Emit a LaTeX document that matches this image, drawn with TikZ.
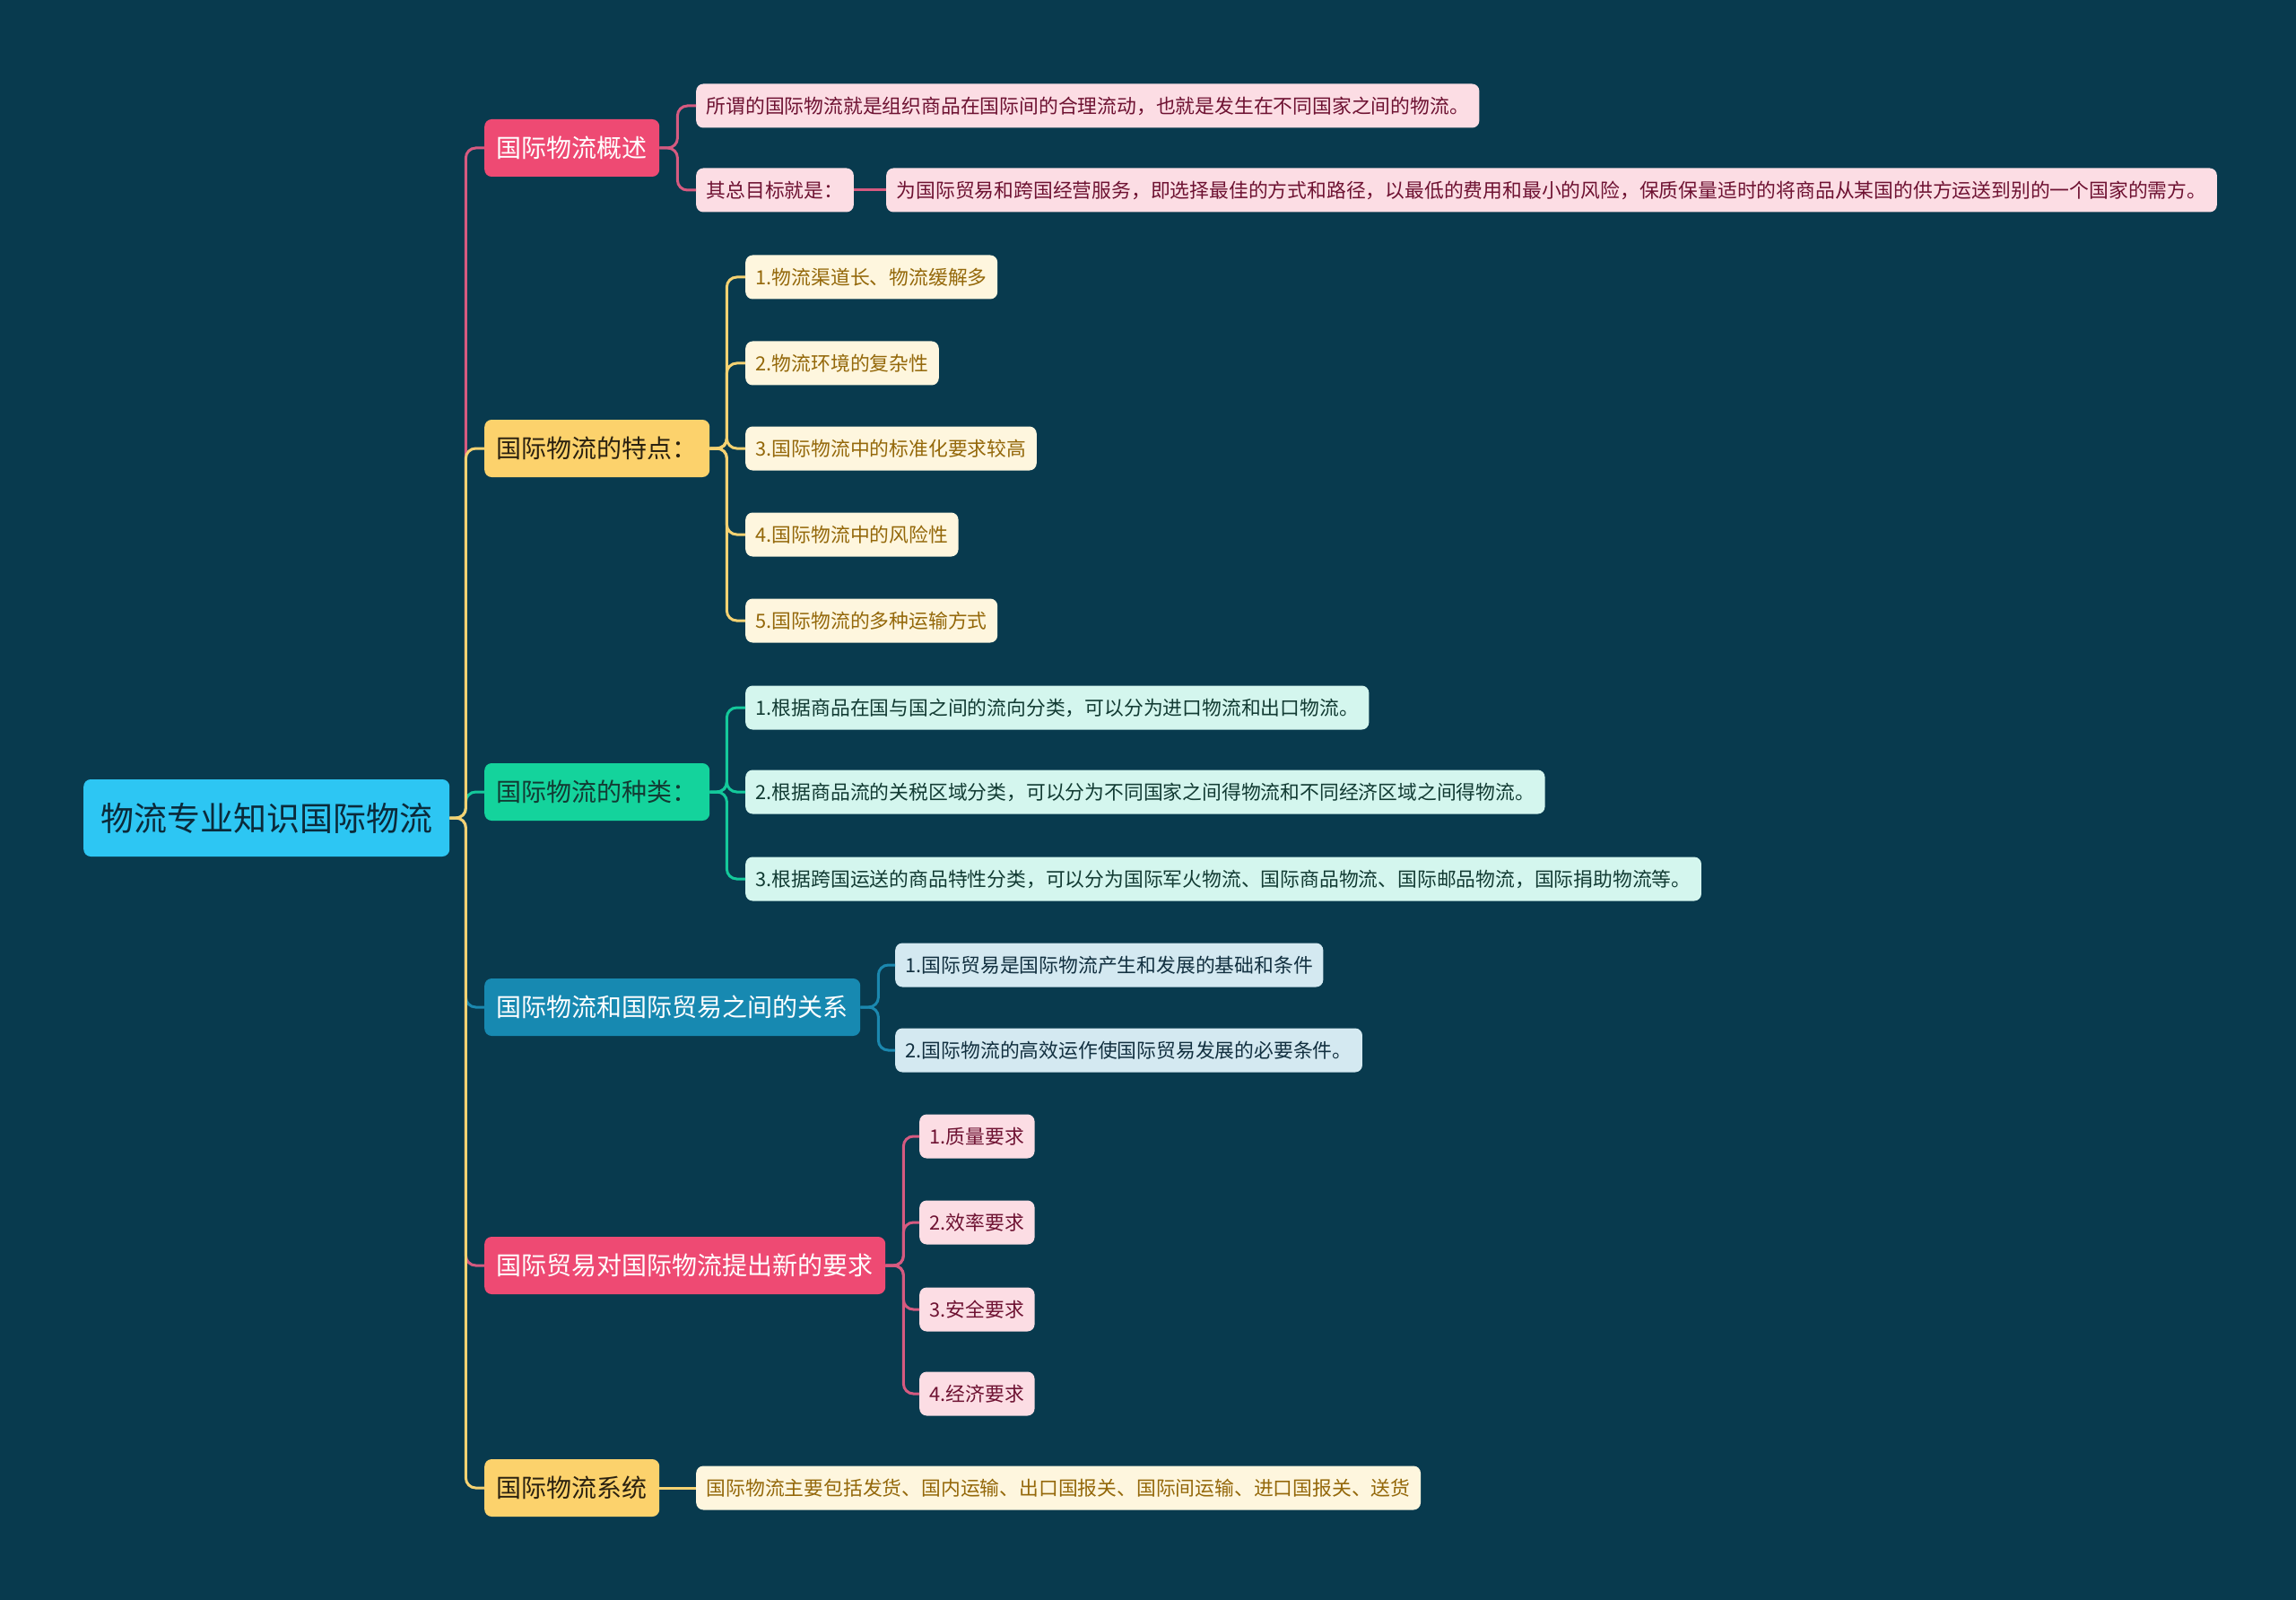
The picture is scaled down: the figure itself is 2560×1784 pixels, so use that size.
\documentclass[tikz,border=0pt]{standalone}
\usepackage{fontspec}
\setmainfont{Noto Sans CJK SC}
\definecolor{bgc}{HTML}{083A4E}
\definecolor{rootc}{HTML}{2DC6F3}
\definecolor{roottext}{HTML}{0B2A3A}
\definecolor{pinkc}{HTML}{EE4A73}
\definecolor{yellowc}{HTML}{FCD26C}
\definecolor{greenc}{HTML}{14D39C}
\definecolor{bluec}{HTML}{1789B1}
\definecolor{pinkleaf}{HTML}{FCDDE4}
\definecolor{pinktext}{HTML}{6E1232}
\definecolor{yellowleaf}{HTML}{FEF6DE}
\definecolor{yellowtext}{HTML}{94680A}
\definecolor{greenleaf}{HTML}{D4F6EE}
\definecolor{greentext}{HTML}{123B33}
\definecolor{blueleaf}{HTML}{D4E9F1}
\definecolor{bluetext}{HTML}{123040}
\definecolor{darktext}{HTML}{2A2110}
\definecolor{pinkline}{HTML}{D65A80}
\definecolor{yellowline}{HTML}{F5D272}
\definecolor{greenline}{HTML}{14C99B}
\definecolor{blueline}{HTML}{1B88AF}
\tikzset{
  base/.style={rounded corners=8pt, anchor=west, inner ysep=0pt},
  rootbox/.style={base, fill=rootc, text=roottext, font=\fontsize{37}{44}\selectfont, minimum height=86pt, inner xsep=19pt},
  mainbr/.style={base, font=\fontsize{28}{34}\selectfont, minimum height=64pt, inner xsep=13.5pt},
  leaf/.style={base, font=\fontsize{21.8}{26}\selectfont, minimum height=49pt, inner xsep=11.5pt},
  pleaf/.style={leaf, fill=pinkleaf, text=pinktext},
  yleaf/.style={leaf, fill=yellowleaf, text=yellowtext},
  gleaf/.style={leaf, fill=greenleaf, text=greentext},
  bleaf/.style={leaf, fill=blueleaf, text=bluetext},
  conn/.style={line width=3pt, rounded corners=11pt},
}
\begin{document}
\begin{tikzpicture}[x=1pt,y=-1pt]
\fill[bgc] (0,0) rectangle (2560,1784);
\useasboundingbox (0,0) rectangle (2560,1784);

% root
\node[rootbox] (root) at (93,912) {物流专业知识国际物流};

% main branches
\node[mainbr, fill=pinkc, text=white] (b1) at (540,165) {国际物流概述};
\node[mainbr, fill=yellowc, text=darktext] (b2) at (540,500) {国际物流的特点：};
\node[mainbr, fill=greenc, text=greentext] (b3) at (540,883) {国际物流的种类：};
\node[mainbr, fill=bluec, text=white] (b4) at (540,1123) {国际物流和国际贸易之间的关系};
\node[mainbr, fill=pinkc, text=white] (b5) at (540,1411) {国际贸易对国际物流提出新的要求};
\node[mainbr, fill=yellowc, text=darktext] (b6) at (540,1659) {国际物流系统};

% branch 1 leaves
\node[pleaf] (l11) at (776,118) {所谓的国际物流就是组织商品在国际间的合理流动，也就是发生在不同国家之间的物流。};
\node[pleaf] (l12) at (776,212) {其总目标就是：};
\node[pleaf] (l121) at (988,212) {为国际贸易和跨国经营服务，即选择最佳的方式和路径，以最低的费用和最小的风险，保质保量适时的将商品从某国的供方运送到别的一个国家的需方。};

% branch 2 leaves
\node[yleaf] (l21) at (831,309) {1.物流渠道长、物流缓解多};
\node[yleaf] (l22) at (831,405) {2.物流环境的复杂性};
\node[yleaf] (l23) at (831,500) {3.国际物流中的标准化要求较高};
\node[yleaf] (l24) at (831,596) {4.国际物流中的风险性};
\node[yleaf] (l25) at (831,692) {5.国际物流的多种运输方式};

% branch 3 leaves
\node[gleaf] (l31) at (831,789) {1.根据商品在国与国之间的流向分类，可以分为进口物流和出口物流。};
\node[gleaf] (l32) at (831,883) {2.根据商品流的关税区域分类，可以分为不同国家之间得物流和不同经济区域之间得物流。};
\node[gleaf] (l33) at (831,980) {3.根据跨国运送的商品特性分类，可以分为国际军火物流、国际商品物流、国际邮品物流，国际捐助物流等。};

% branch 4 leaves
\node[bleaf] (l41) at (998,1076) {1.国际贸易是国际物流产生和发展的基础和条件};
\node[bleaf] (l42) at (998,1171) {2.国际物流的高效运作使国际贸易发展的必要条件。};

% branch 5 leaves
\node[pleaf] (l51) at (1025,1267) {1.质量要求};
\node[pleaf] (l52) at (1025,1363) {2.效率要求};
\node[pleaf] (l53) at (1025,1460) {3.安全要求};
\node[pleaf] (l54) at (1025,1554) {4.经济要求};

% branch 6 leaf
\node[yleaf] (l61) at (776,1659) {国际物流主要包括发货、国内运输、出口国报关、国际间运输、进口国报关、送货};

% trunk connectors (order matters for overlap)
\draw[conn, pinkline] (root.east) -- ++(18,0) |- (b1.west);
\draw[conn, pinkline] (root.east) -- ++(18,0) |- (b5.west);
\draw[conn, blueline] (root.east) -- ++(18,0) |- (b4.west);
\draw[conn, greenline] (root.east) -- ++(18,0) |- (b3.west);
\draw[conn, yellowline] (root.east) -- ++(18,0) |- (b2.west);
\draw[conn, yellowline] (root.east) -- ++(18,0) |- (b6.west);

% branch 1
\foreach \c in {l11,l12} \draw[conn, pinkline] (b1.east) -- ++(20,0) |- (\c.west);
\draw[conn, pinkline] (l12.east) -- (l121.west);
% branch 2
\foreach \c in {l21,l22,l23,l24,l25} \draw[conn, yellowline] (b2.east) -- ++(19,0) |- (\c.west);
% branch 3
\foreach \c in {l31,l32,l33} \draw[conn, greenline] (b3.east) -- ++(19,0) |- (\c.west);
% branch 4
\foreach \c in {l41,l42} \draw[conn, blueline] (b4.east) -- ++(20,0) |- (\c.west);
% branch 5
\foreach \c in {l51,l52,l53,l54} \draw[conn, pinkline] (b5.east) -- ++(20,0) |- (\c.west);
% branch 6
\draw[conn, yellowline] (b6.east) -- (l61.west);
\end{tikzpicture}
\end{document}
